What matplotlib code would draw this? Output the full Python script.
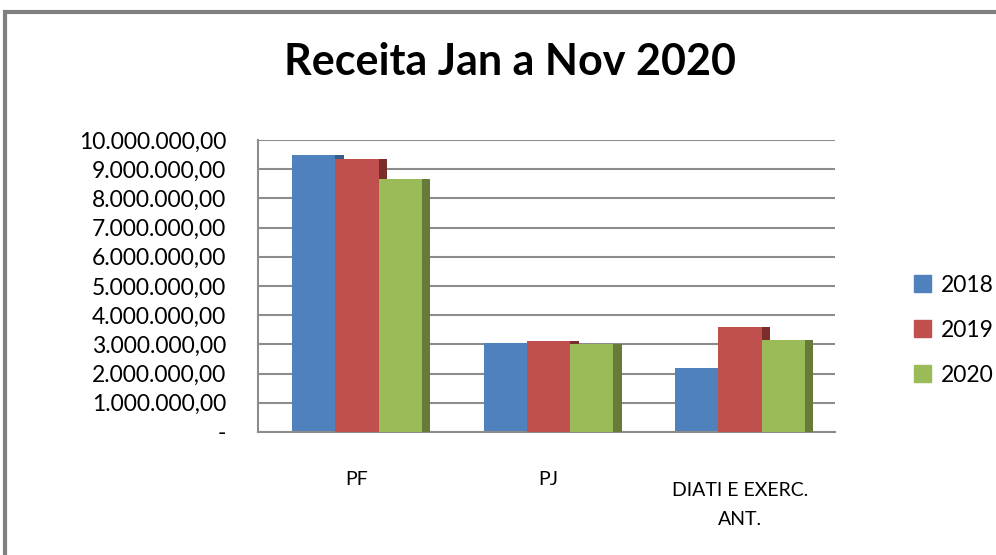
"""Receita Jan a Nov 2020 - grouped bar chart by category and year."""

import matplotlib.pyplot as plt
import matplotlib.transforms as mtransforms
import numpy as np
from matplotlib.patches import Patch, Rectangle

plt.rcParams["font.family"] = ["Lato", "DejaVu Sans"]

categories = ["PF", "PJ", "DIATI E EXERC.\nANT."]
years = ["2018", "2019", "2020"]
receita_2018 = [9_500_000, 3_050_000, 2_200_000]
receita_2019 = [9_350_000, 3_100_000, 3_600_000]
receita_2020 = [8_650_000, 3_000_000, 3_150_000]
y_ticks = np.arange(0, 10_000_001, 1_000_000)

colors = ["#4f81bd", "#c0504d", "#9bbb59"]
side_colors = ["#385d8a", "#7b2d2b", "#667a39"]


def fmt_br(v):
    if v == 0:
        return "-"
    s = f"{v:,.2f}"
    return s.replace(",", "X").replace(".", ",").replace("X", ".")


fig = plt.figure(figsize=(9.96, 5.55), dpi=100)
ax = fig.add_axes([258 / 996, 1 - 432 / 555, (835 - 258) / 996, (432 - 140) / 555])

x = np.arange(len(categories))
width = 0.225
depth = 0.045
series = [receita_2018, receita_2019, receita_2020]
for i, vals in enumerate(series):
    pos = x + (i - 1) * width
    # darker side face gives a bit of the 3D look
    ax.bar(pos + depth, vals, width, color=side_colors[i], zorder=2 + i)
    ax.bar(pos, vals, width, color=colors[i], zorder=2.5 + i)

ax.set_xlim(-0.517, 2.496)
ax.set_ylim(0, 10_000_000)
ax.set_yticks(y_ticks)
ax.set_yticklabels([fmt_br(v) for v in y_ticks], fontsize=16.5)
ax.yaxis.grid(True, color="#8c8c8c", linewidth=1.5, zorder=0)
ax.set_axisbelow(True)
ax.tick_params(axis="y", length=0, pad=23)
ax.tick_params(axis="x", length=0, pad=28)
ax.set_xticks(x)
ax.set_xticklabels(categories, fontsize=14, linespacing=1.85, va="top")
# last category label sits a little lower in the original (perspective)
last = ax.get_xticklabels()[-1]
last.set_transform(last.get_transform() +
                   mtransforms.ScaledTranslation(0, -8 / 72, fig.dpi_scale_trans))

for side in ["top", "right"]:
    ax.spines[side].set_visible(False)
for side in ["left", "bottom"]:
    ax.spines[side].set_color("#8c8c8c")
    ax.spines[side].set_linewidth(1.5)

fig.text(0.512, 0.888, "Receita Jan a Nov 2020", ha="center", va="center",
         fontsize=31, fontweight="bold")

handles = [Patch(color=c) for c in colors]
fig.legend(handles, years, loc="center left", bbox_to_anchor=(0.897, 0.405),
           frameon=False, fontsize=16.5, handlelength=0.75, handleheight=0.75,
           handletextpad=0.4, labelspacing=1.05)

fig.patches.append(Rectangle((5 / 996, -0.1), 1.1, 1.1 - 12 / 555,
                             transform=fig.transFigure, fill=False,
                             edgecolor="#808080", linewidth=3))

fig.savefig("out.png", dpi=100)
